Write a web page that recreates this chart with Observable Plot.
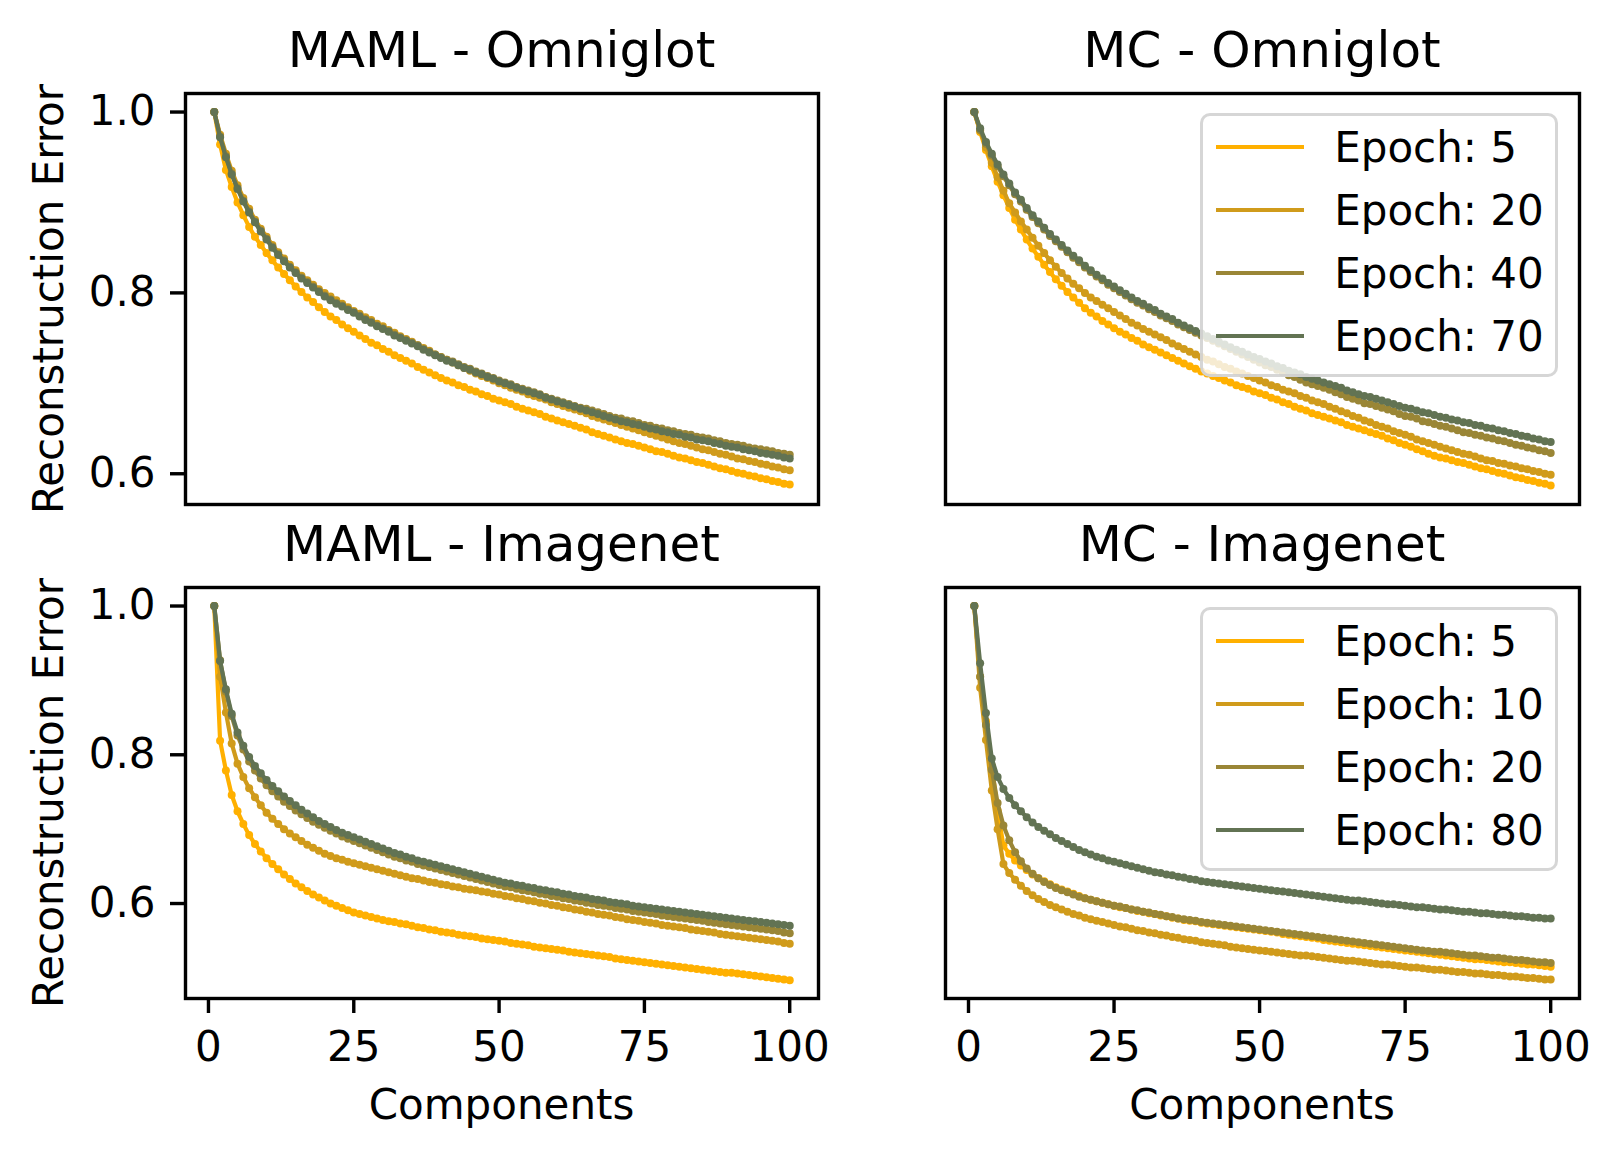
<!DOCTYPE html>
<html><head><meta charset="utf-8">
<script src="https://cdn.jsdelivr.net/npm/d3@7"></script>
<script src="https://cdn.jsdelivr.net/npm/@observablehq/plot@0.6"></script>
<style>
body{margin:0;background:#fff;}
#fig{position:relative;width:1620px;height:1158px;font-family:"DejaVu Sans",sans-serif;color:#000;overflow:hidden;}
#fig svg{position:absolute;overflow:visible;}
.t{position:absolute;white-space:nowrap;}
</style></head><body><div id="fig"></div>
<script>
const components = [1,2,3,4,5,6,7,8,9,10,11,12,13,14,15,16,17,18,19,20,21,22,23,24,25,26,27,28,29,30,31,32,33,34,35,36,37,38,39,40,41,42,43,44,45,46,47,48,49,50,51,52,53,54,55,56,57,58,59,60,61,62,63,64,65,66,67,68,69,70,71,72,73,74,75,76,77,78,79,80,81,82,83,84,85,86,87,88,89,90,91,92,93,94,95,96,97,98,99,100];
const xTicks = [0, 25, 50, 75, 100];
const yTicks = [0.6, 0.8, 1.0];
const palette = ["#FFB000", "#D09B1B", "#9A8636", "#627353"];
const titles = ["MAML - Omniglot", "MC - Omniglot", "MAML - Imagenet", "MC - Imagenet"];
const omniglotLabels = ["Epoch: 5", "Epoch: 20", "Epoch: 40", "Epoch: 70"];
const imagenetLabels = ["Epoch: 5", "Epoch: 10", "Epoch: 20", "Epoch: 80"];

// MAML - Omniglot
const mamlOmniglot5 = [1.000,0.964,0.936,0.917,0.900,0.886,0.873,0.862,0.853,0.844,0.836,0.828,0.821,0.814,0.807,0.801,0.795,0.790,0.784,0.779,0.774,0.770,0.765,0.761,0.757,0.753,0.749,0.745,0.742,0.738,0.735,0.731,0.728,0.725,0.722,0.718,0.715,0.712,0.709,0.706,0.703,0.701,0.698,0.696,0.693,0.691,0.688,0.686,0.683,0.681,0.679,0.677,0.674,0.672,0.670,0.668,0.666,0.663,0.661,0.659,0.657,0.655,0.653,0.651,0.649,0.646,0.644,0.642,0.640,0.638,0.636,0.634,0.633,0.631,0.629,0.627,0.625,0.624,0.622,0.620,0.618,0.617,0.615,0.613,0.612,0.610,0.608,0.606,0.605,0.603,0.601,0.600,0.598,0.597,0.595,0.594,0.592,0.591,0.589,0.588];
const mamlOmniglot20 = [1.000,0.975,0.954,0.935,0.919,0.905,0.893,0.881,0.871,0.862,0.853,0.845,0.838,0.831,0.825,0.819,0.814,0.809,0.804,0.800,0.796,0.792,0.788,0.784,0.780,0.777,0.773,0.770,0.766,0.763,0.759,0.756,0.752,0.749,0.746,0.742,0.739,0.736,0.732,0.729,0.726,0.723,0.720,0.717,0.714,0.711,0.708,0.706,0.703,0.700,0.698,0.695,0.693,0.691,0.688,0.686,0.684,0.682,0.679,0.677,0.675,0.673,0.671,0.669,0.667,0.664,0.662,0.660,0.658,0.656,0.654,0.652,0.650,0.648,0.646,0.644,0.642,0.640,0.638,0.636,0.634,0.633,0.631,0.629,0.627,0.626,0.624,0.622,0.621,0.619,0.617,0.616,0.614,0.613,0.611,0.610,0.608,0.607,0.605,0.604];
const mamlOmniglot40 = [1.000,0.973,0.951,0.932,0.916,0.902,0.890,0.879,0.869,0.860,0.851,0.843,0.836,0.829,0.823,0.817,0.812,0.807,0.802,0.797,0.793,0.789,0.786,0.782,0.779,0.775,0.771,0.768,0.764,0.761,0.758,0.754,0.751,0.748,0.745,0.742,0.738,0.735,0.732,0.729,0.726,0.724,0.721,0.718,0.716,0.713,0.711,0.708,0.706,0.703,0.701,0.699,0.696,0.694,0.692,0.690,0.688,0.685,0.683,0.681,0.679,0.677,0.675,0.673,0.672,0.670,0.668,0.666,0.664,0.662,0.661,0.659,0.658,0.656,0.654,0.653,0.651,0.650,0.648,0.647,0.645,0.644,0.643,0.641,0.640,0.639,0.637,0.636,0.634,0.633,0.632,0.631,0.629,0.628,0.627,0.626,0.625,0.623,0.622,0.621];
const mamlOmniglot70 = [1.000,0.972,0.950,0.931,0.915,0.901,0.889,0.878,0.868,0.859,0.850,0.842,0.835,0.828,0.822,0.816,0.811,0.806,0.801,0.796,0.792,0.788,0.785,0.781,0.778,0.774,0.770,0.767,0.763,0.760,0.757,0.753,0.750,0.747,0.744,0.741,0.737,0.734,0.731,0.728,0.725,0.723,0.720,0.717,0.715,0.712,0.710,0.707,0.705,0.702,0.700,0.698,0.695,0.693,0.691,0.689,0.687,0.684,0.682,0.680,0.678,0.676,0.674,0.672,0.670,0.668,0.666,0.664,0.662,0.660,0.658,0.657,0.655,0.654,0.652,0.650,0.649,0.647,0.646,0.644,0.643,0.641,0.640,0.638,0.637,0.636,0.634,0.633,0.631,0.630,0.629,0.627,0.626,0.625,0.623,0.622,0.621,0.620,0.618,0.617];

// MC - Omniglot
const mcOmniglot5 = [1.000,0.978,0.958,0.940,0.923,0.908,0.894,0.881,0.870,0.859,0.849,0.840,0.831,0.823,0.815,0.808,0.801,0.795,0.789,0.783,0.778,0.774,0.769,0.765,0.761,0.757,0.754,0.750,0.747,0.743,0.740,0.737,0.734,0.731,0.728,0.725,0.722,0.719,0.716,0.713,0.711,0.708,0.706,0.703,0.701,0.698,0.696,0.694,0.691,0.689,0.687,0.684,0.682,0.679,0.677,0.674,0.672,0.670,0.667,0.665,0.663,0.661,0.659,0.657,0.654,0.652,0.650,0.648,0.646,0.644,0.642,0.639,0.637,0.634,0.632,0.630,0.627,0.625,0.622,0.620,0.618,0.617,0.615,0.613,0.612,0.610,0.608,0.606,0.605,0.603,0.601,0.600,0.598,0.596,0.595,0.593,0.592,0.590,0.589,0.587];
const mcOmniglot20 = [1.000,0.980,0.961,0.944,0.928,0.913,0.899,0.889,0.879,0.870,0.861,0.852,0.844,0.836,0.829,0.822,0.816,0.810,0.805,0.800,0.795,0.791,0.787,0.783,0.779,0.775,0.771,0.767,0.764,0.760,0.757,0.754,0.751,0.748,0.744,0.741,0.738,0.735,0.732,0.729,0.726,0.724,0.721,0.718,0.716,0.713,0.711,0.708,0.706,0.703,0.701,0.698,0.696,0.693,0.691,0.689,0.686,0.684,0.681,0.679,0.677,0.674,0.672,0.669,0.667,0.664,0.662,0.659,0.657,0.654,0.652,0.650,0.647,0.645,0.643,0.641,0.638,0.636,0.634,0.632,0.630,0.628,0.626,0.624,0.622,0.621,0.619,0.617,0.615,0.614,0.612,0.611,0.609,0.608,0.606,0.605,0.603,0.602,0.600,0.599];
const mcOmniglot40 = [1.000,0.980,0.965,0.952,0.940,0.929,0.919,0.909,0.901,0.892,0.884,0.877,0.870,0.863,0.857,0.851,0.845,0.839,0.834,0.828,0.823,0.818,0.814,0.809,0.805,0.801,0.797,0.793,0.789,0.786,0.782,0.779,0.775,0.772,0.769,0.765,0.762,0.759,0.756,0.753,0.750,0.747,0.744,0.741,0.738,0.735,0.732,0.729,0.726,0.723,0.720,0.718,0.715,0.712,0.709,0.707,0.704,0.701,0.699,0.697,0.695,0.693,0.690,0.688,0.685,0.683,0.681,0.678,0.677,0.675,0.673,0.671,0.669,0.666,0.664,0.663,0.661,0.658,0.657,0.655,0.653,0.652,0.650,0.648,0.646,0.645,0.643,0.642,0.640,0.639,0.637,0.636,0.634,0.632,0.631,0.629,0.628,0.626,0.625,0.623];
const mcOmniglot70 = [1.000,0.982,0.967,0.954,0.942,0.931,0.921,0.911,0.903,0.894,0.886,0.879,0.872,0.865,0.859,0.853,0.847,0.841,0.836,0.830,0.825,0.820,0.816,0.811,0.807,0.803,0.799,0.795,0.791,0.788,0.784,0.781,0.777,0.774,0.771,0.767,0.764,0.761,0.758,0.755,0.752,0.749,0.746,0.743,0.740,0.737,0.735,0.732,0.729,0.727,0.724,0.722,0.719,0.717,0.714,0.712,0.710,0.707,0.705,0.703,0.701,0.699,0.697,0.695,0.692,0.690,0.688,0.686,0.685,0.683,0.681,0.679,0.677,0.675,0.673,0.672,0.670,0.668,0.667,0.665,0.663,0.662,0.660,0.659,0.657,0.656,0.654,0.653,0.651,0.650,0.648,0.647,0.645,0.644,0.642,0.641,0.639,0.638,0.636,0.635];

// MAML - Imagenet
const mamlImagenet5 = [1.000,0.819,0.779,0.746,0.724,0.707,0.692,0.680,0.670,0.661,0.653,0.646,0.639,0.633,0.627,0.622,0.617,0.612,0.608,0.604,0.600,0.597,0.594,0.591,0.588,0.586,0.584,0.582,0.580,0.578,0.576,0.575,0.573,0.572,0.570,0.568,0.567,0.565,0.564,0.562,0.561,0.560,0.558,0.557,0.556,0.555,0.553,0.552,0.551,0.550,0.549,0.547,0.546,0.545,0.544,0.542,0.541,0.540,0.539,0.538,0.537,0.535,0.534,0.533,0.532,0.531,0.530,0.529,0.528,0.526,0.525,0.524,0.523,0.522,0.521,0.520,0.519,0.518,0.517,0.516,0.515,0.514,0.513,0.512,0.511,0.510,0.509,0.508,0.507,0.507,0.506,0.505,0.504,0.503,0.502,0.501,0.500,0.499,0.498,0.497];
const mamlImagenet20 = [1.000,0.905,0.857,0.815,0.788,0.770,0.755,0.743,0.732,0.722,0.714,0.707,0.700,0.694,0.689,0.684,0.679,0.675,0.671,0.667,0.664,0.661,0.659,0.656,0.654,0.652,0.650,0.648,0.646,0.644,0.642,0.640,0.638,0.636,0.634,0.633,0.631,0.629,0.628,0.626,0.625,0.623,0.622,0.620,0.619,0.618,0.616,0.615,0.613,0.612,0.610,0.609,0.607,0.606,0.604,0.603,0.601,0.600,0.598,0.597,0.595,0.594,0.592,0.591,0.589,0.588,0.586,0.585,0.584,0.582,0.581,0.579,0.578,0.577,0.575,0.574,0.573,0.571,0.570,0.569,0.568,0.567,0.565,0.564,0.563,0.562,0.561,0.559,0.558,0.557,0.556,0.555,0.554,0.553,0.552,0.551,0.550,0.549,0.547,0.546];
const mamlImagenet40 = [1.000,0.927,0.885,0.852,0.826,0.807,0.791,0.779,0.768,0.759,0.751,0.744,0.737,0.731,0.725,0.720,0.715,0.710,0.706,0.702,0.698,0.694,0.690,0.687,0.684,0.681,0.678,0.675,0.672,0.669,0.666,0.663,0.661,0.658,0.656,0.653,0.651,0.649,0.647,0.645,0.643,0.641,0.639,0.637,0.635,0.633,0.631,0.629,0.627,0.625,0.623,0.622,0.620,0.618,0.617,0.615,0.613,0.612,0.610,0.609,0.607,0.606,0.604,0.603,0.601,0.600,0.598,0.597,0.596,0.594,0.593,0.592,0.590,0.589,0.588,0.587,0.586,0.584,0.583,0.582,0.581,0.580,0.579,0.578,0.577,0.575,0.574,0.573,0.572,0.571,0.570,0.569,0.568,0.567,0.566,0.565,0.564,0.563,0.561,0.560];
const mamlImagenet70 = [1.000,0.926,0.888,0.855,0.830,0.812,0.797,0.785,0.775,0.766,0.758,0.751,0.744,0.738,0.732,0.726,0.721,0.716,0.711,0.707,0.703,0.699,0.695,0.692,0.689,0.686,0.683,0.680,0.677,0.674,0.671,0.668,0.666,0.663,0.661,0.658,0.656,0.654,0.652,0.650,0.648,0.646,0.644,0.642,0.640,0.638,0.636,0.634,0.632,0.630,0.628,0.627,0.625,0.624,0.622,0.621,0.619,0.618,0.616,0.615,0.613,0.612,0.610,0.609,0.608,0.606,0.605,0.604,0.602,0.601,0.600,0.599,0.597,0.596,0.595,0.594,0.593,0.592,0.591,0.590,0.589,0.588,0.587,0.586,0.585,0.584,0.583,0.582,0.581,0.580,0.579,0.578,0.577,0.576,0.575,0.574,0.573,0.572,0.571,0.570];

// MC - Imagenet
const mcImagenet5 = [1.000,0.905,0.845,0.785,0.725,0.678,0.667,0.658,0.651,0.645,0.639,0.634,0.630,0.626,0.622,0.619,0.616,0.613,0.610,0.607,0.605,0.603,0.601,0.599,0.597,0.595,0.594,0.592,0.590,0.589,0.587,0.586,0.584,0.583,0.581,0.580,0.578,0.577,0.576,0.574,0.573,0.572,0.571,0.570,0.569,0.568,0.567,0.566,0.565,0.564,0.563,0.562,0.561,0.559,0.558,0.557,0.556,0.555,0.554,0.553,0.551,0.550,0.549,0.548,0.547,0.546,0.545,0.544,0.543,0.542,0.541,0.540,0.539,0.538,0.537,0.536,0.535,0.534,0.533,0.532,0.531,0.530,0.529,0.528,0.527,0.526,0.525,0.525,0.524,0.523,0.522,0.521,0.521,0.520,0.519,0.518,0.518,0.517,0.516,0.515];
const mcImagenet10 = [1.000,0.890,0.820,0.752,0.700,0.653,0.641,0.632,0.624,0.617,0.611,0.606,0.602,0.598,0.595,0.592,0.589,0.586,0.584,0.581,0.579,0.577,0.575,0.573,0.571,0.569,0.568,0.566,0.564,0.563,0.561,0.560,0.558,0.557,0.555,0.554,0.552,0.551,0.550,0.548,0.547,0.546,0.545,0.544,0.542,0.541,0.540,0.539,0.538,0.537,0.536,0.535,0.534,0.533,0.532,0.531,0.530,0.530,0.529,0.528,0.527,0.526,0.525,0.524,0.523,0.523,0.522,0.521,0.520,0.519,0.518,0.518,0.517,0.516,0.515,0.514,0.514,0.513,0.512,0.511,0.511,0.510,0.509,0.508,0.508,0.507,0.506,0.506,0.505,0.504,0.504,0.503,0.502,0.502,0.501,0.500,0.500,0.499,0.498,0.498];
const mcImagenet20 = [1.000,0.905,0.840,0.780,0.735,0.705,0.685,0.669,0.657,0.647,0.640,0.634,0.629,0.625,0.621,0.618,0.615,0.612,0.609,0.607,0.605,0.603,0.601,0.599,0.597,0.596,0.594,0.592,0.591,0.589,0.588,0.586,0.585,0.583,0.582,0.580,0.579,0.578,0.577,0.575,0.574,0.573,0.572,0.571,0.570,0.569,0.568,0.567,0.566,0.565,0.564,0.563,0.562,0.561,0.560,0.559,0.558,0.557,0.556,0.555,0.554,0.553,0.552,0.551,0.550,0.549,0.548,0.547,0.546,0.545,0.544,0.543,0.542,0.541,0.540,0.539,0.538,0.537,0.536,0.535,0.535,0.534,0.533,0.532,0.531,0.530,0.530,0.529,0.528,0.527,0.527,0.526,0.525,0.524,0.524,0.523,0.522,0.521,0.521,0.520];
const mcImagenet80 = [1.000,0.923,0.856,0.795,0.770,0.754,0.742,0.732,0.724,0.716,0.709,0.703,0.698,0.693,0.688,0.684,0.680,0.676,0.672,0.669,0.666,0.663,0.661,0.658,0.656,0.654,0.652,0.650,0.648,0.646,0.644,0.642,0.641,0.639,0.638,0.636,0.635,0.633,0.632,0.630,0.629,0.628,0.627,0.626,0.625,0.624,0.623,0.622,0.621,0.620,0.619,0.618,0.617,0.616,0.615,0.614,0.613,0.612,0.611,0.610,0.609,0.608,0.607,0.606,0.605,0.604,0.604,0.603,0.602,0.601,0.600,0.599,0.599,0.598,0.597,0.596,0.595,0.595,0.594,0.593,0.592,0.592,0.591,0.590,0.589,0.589,0.588,0.587,0.587,0.586,0.585,0.585,0.584,0.583,0.583,0.582,0.581,0.581,0.580,0.580];

const fig = document.getElementById("fig");
const FS = 42, TFS = 50;

function rows(values) { return values.map((v, i) => ({component: components[i], error: v})); }

function panel(cfg) {
  const marks = [];
  cfg.series.forEach((vals, k) => {
    const r = rows(vals);
    marks.push(Plot.line(r, {x: "component", y: "error", stroke: palette[k], strokeWidth: 4.2}));
    marks.push(Plot.dot(r, {x: "component", y: "error", fill: palette[k], r: 4}));
  });
  if (cfg.xAxis) marks.push(Plot.axisX({ticks: xTicks, tickSize: 15, tickPadding: 18, fontSize: FS, strokeWidth: 3.4, label: null}));
  if (cfg.yAxis) marks.push(Plot.axisY({ticks: yTicks, tickFormat: d3.format(".1f"), tickSize: 15, tickPadding: 15, fontSize: FS, strokeWidth: 3.4, label: null}));
  marks.push(Plot.frame({stroke: "black", strokeWidth: 3.4}));
  const svg = Plot.plot({
    width: cfg.w, height: cfg.h,
    marginLeft: cfg.ml, marginRight: cfg.mr, marginTop: cfg.mt, marginBottom: cfg.mb,
    x: {domain: [-3.95, 104.95], axis: cfg.xAxis ? undefined : null},
    y: {domain: cfg.yDomain, axis: cfg.yAxis ? undefined : null},
    style: {fontFamily: "DejaVu Sans", background: "transparent", color: "black", overflow: "visible"},
    marks
  });
  svg.style.left = cfg.left + "px";
  svg.style.top = cfg.top + "px";
  fig.appendChild(svg);
}

function text(str, x, baseline, size, opts = {}) {
  const d = document.createElement("div");
  d.className = "t";
  d.textContent = str;
  d.style.fontSize = size + "px";
  d.style.lineHeight = size + "px";
  if (opts.rotate) {
    d.style.left = (baseline - 0.346 * size) + "px";
    d.style.top = x + "px";
    d.style.transform = "translate(-50%,-50%) rotate(-90deg)";
  } else {
    d.style.left = x + "px";
    d.style.top = (baseline - 0.846 * size) + "px";
    if (opts.center) d.style.transform = "translateX(-50%)";
  }
  (opts.parent || fig).appendChild(d);
  return d;
}

function legend(labels, top) {
  const box = document.createElement("div");
  const bw = 3.4;
  Object.assign(box.style, {position: "absolute", left: "1200px", top: top + "px", width: "358px", height: "264px",
    boxSizing: "border-box", border: bw + "px solid rgba(204,204,204,0.8)", borderRadius: "10px", background: "rgba(255,255,255,0.8)"});
  fig.appendChild(box);
  labels.forEach((lab, k) => {
    const cy = 35 + 63 * k;
    const sw = document.createElement("div");
    Object.assign(sw.style, {position: "absolute", left: (1216 - 1200 - bw) + "px", top: (cy - 2 - bw) + "px", width: "88px", height: "4px", background: palette[k]});
    box.appendChild(sw);
    text(lab, 1334.6 - 1200 - bw, cy + 15.6 - bw, FS, {parent: box});
  });
}

const topDomain = [0.566, 1.0205];
const botDomain = [0.4723, 1.0249];
const L = {left: 0, w: 860, ml: 185, mr: 42};
const R = {left: 860, w: 760, ml: 85, mr: 41};
const T = {top: 0, h: 540, mt: 93, mb: 36};
const B = {top: 540, h: 618, mt: 47, mb: 160};

panel({...L, ...T, yDomain: topDomain, xAxis: false, yAxis: true, series: [mamlOmniglot5, mamlOmniglot20, mamlOmniglot40, mamlOmniglot70]});
panel({...R, ...T, yDomain: topDomain, xAxis: false, yAxis: false, series: [mcOmniglot5, mcOmniglot20, mcOmniglot40, mcOmniglot70]});
panel({...L, ...B, yDomain: botDomain, xAxis: true, yAxis: true, series: [mamlImagenet5, mamlImagenet20, mamlImagenet40, mamlImagenet70]});
panel({...R, ...B, yDomain: botDomain, xAxis: true, yAxis: false, series: [mcImagenet5, mcImagenet10, mcImagenet20, mcImagenet80]});

// titles
text(titles[0], 501.5, 67, TFS, {center: true});
text(titles[1], 1262, 67, TFS, {center: true});
text(titles[2], 501.5, 561, TFS, {center: true});
text(titles[3], 1262, 561, TFS, {center: true});
// axis labels
text("Components", 501.5, 1120, FS, {center: true});
text("Components", 1262, 1120, FS, {center: true});
text("Reconstruction Error", 298.5, 63.3, FS, {rotate: true});
text("Reconstruction Error", 792.5, 63.3, FS, {rotate: true});
// legends
legend(omniglotLabels, 112.7);
legend(imagenetLabels, 606.7);
</script></body></html>
